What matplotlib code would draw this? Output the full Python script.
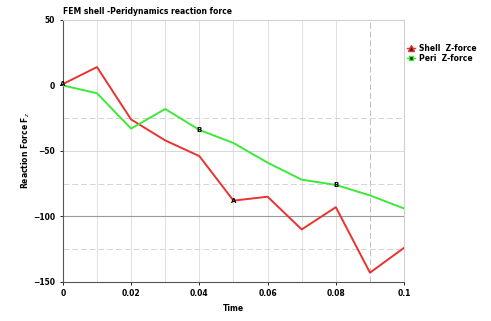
import numpy as np
import matplotlib
matplotlib.use("Agg")
import matplotlib.pyplot as plt
from matplotlib.lines import Line2D

# time steps and reaction forces
time = [0.0, 0.01, 0.02, 0.03, 0.04, 0.05, 0.06, 0.07, 0.08, 0.09, 0.1]
shell_z = [1, 14, -26, -42, -54, -88, -85, -110, -93, -143, -124]
peri_z = [0, -6, -33, -18, -34, -44, -59, -72, -76, -84, -94]

shell_marks = [0.0, 0.05]
peri_marks = [0.04, 0.08]

x_ticks = [0, 0.02, 0.04, 0.06, 0.08, 0.1]
x_tick_labels = ["0", "0.02", "0.04", "0.06", "0.08", "0.1"]
y_ticks = [50, 0, -50, -100, -150]

fig = plt.figure(figsize=(4.91, 3.21), dpi=100)
ax = fig.add_axes([0.128, 0.122, 0.695, 0.816])

# grid like the LS-PrePost plot window
for t in np.arange(0.01, 0.1, 0.01):
    ls = (0, (6, 3)) if abs(t - 0.09) < 1e-6 else "-"
    col = "#bdbdbd" if abs(t - 0.09) < 1e-6 else "#e0e0e0"
    ax.axvline(t, color=col, lw=0.7, ls=ls, zorder=0)
for v in [-25, -75, -125]:
    ax.axhline(v, color="#d4d4d4", lw=0.7, ls=(0, (6, 3)), zorder=0)
ax.axhline(-50, color="#d8d8d8", lw=0.7, zorder=0)
ax.axhline(-100, color="#9a9a9a", lw=0.8, zorder=0)

ax.plot(time, shell_z, color="#e8332f", lw=1.4, zorder=3)
ax.plot(time, peri_z, color="#3ee83a", lw=1.4, zorder=3)

for t in shell_marks:
    ax.text(t, np.interp(t, time, shell_z), "A", fontsize=5, fontweight="bold",
            ha="center", va="center", zorder=4)
for t in peri_marks:
    ax.text(t, np.interp(t, time, peri_z), "B", fontsize=5, fontweight="bold",
            ha="center", va="center", zorder=4)

ax.set_xlim(0, 0.1)
ax.set_ylim(-150, 50)
ax.set_xticks(x_ticks)
ax.set_xticklabels(x_tick_labels)
ax.set_yticks(y_ticks)
ax.tick_params(labelsize=5.5, length=2, width=0.6)
for lab in ax.get_xticklabels() + ax.get_yticklabels():
    lab.set_fontweight("bold")

ax.spines["left"].set_color("#555555")
ax.spines["bottom"].set_color("#555555")
ax.spines["top"].set_color("#d0d0d0")
ax.spines["right"].set_color("#d0d0d0")
for s in ax.spines.values():
    s.set_linewidth(0.8)

ax.set_title("FEM shell -Peridynamics reaction force", fontsize=5.5,
             fontweight="bold", loc="left", pad=4)
ax.set_xlabel("Time", fontsize=5.5, fontweight="bold")
ax.set_ylabel("Reaction Force F$_z$", fontsize=5.5, fontweight="bold", labelpad=1)

handles = [
    Line2D([0], [0], color="#e8332f", marker="^", markersize=4,
           markerfacecolor="#222222", lw=1.0),
    Line2D([0], [0], color="#3ee83a", marker="s", markersize=3,
           markerfacecolor="#222222", lw=1.0),
]
fig.legend(handles, ["Shell  Z-force", "Peri  Z-force"], loc="upper left",
           bbox_to_anchor=(0.815, 0.885), frameon=False,
           handlelength=1.0, handletextpad=0.6, labelspacing=0.15,
           prop={"weight": "bold", "size": 5.5})

fig.savefig("out.png", dpi=100)
